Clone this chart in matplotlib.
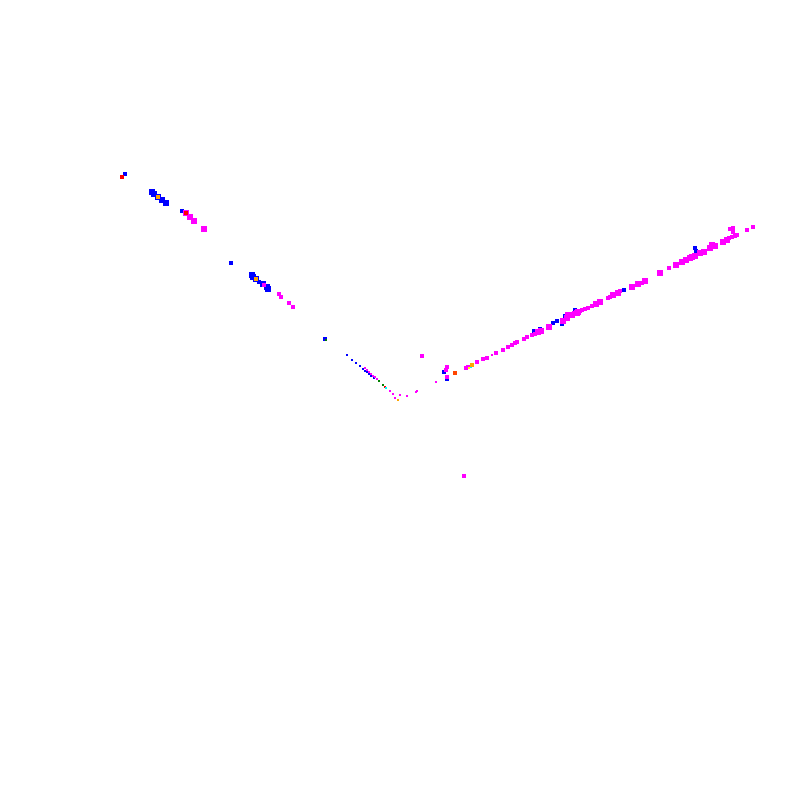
import matplotlib.pyplot as plt

# positions (pixel-like units, y grows downward)
blue_x = [125, 152, 154, 158, 162, 166, 182, 231, 252, 253, 256, 259, 263, 267, 268,
          325, 347, 352, 356, 360, 363, 365, 367, 369, 371, 374,
          444, 447, 534, 540, 553, 557, 562, 565, 575, 562, 575, 624, 695, 696]
blue_y = [174, 192, 194, 197, 200, 203, 211, 263, 275, 277, 279, 282, 284, 287, 289,
          339, 355, 360, 363, 366, 369, 371, 372, 374, 376, 378,
          372, 379, 331, 329, 323, 321, 324, 316, 310, 323, 310, 290, 248, 251]
blue_s = [8, 18, 18, 16, 18, 16, 10, 8, 14, 14, 14, 12, 14, 14, 14,
          6, 3, 3, 2, 2, 2, 2, 2, 2, 2, 2,
          5, 5, 7, 7, 8, 7, 7, 8, 6, 6, 6, 7, 12, 10]

magenta_x = [158, 186, 190, 194, 204, 264, 279, 281, 289, 293,
             365, 367, 369, 371, 373, 375, 377, 379, 390, 393, 395, 400, 407, 416, 417,
             422, 436, 446, 447, 447, 466, 468, 477, 483, 487, 492, 496, 503, 508, 512,
             515, 517, 524, 527, 532, 535, 538, 541, 549, 563, 567, 570, 577,
             568, 572, 578, 582, 588, 592, 596, 600, 608, 613, 618, 632, 638, 645,
             660, 669, 676, 682, 690, 695, 700, 710, 715, 723, 727, 732, 733, 730,
             733, 737, 747, 753, 464,
             566, 580, 610, 642, 686, 692, 704, 712, 729, 735, 600, 620, 585, 574]
magenta_y = [197, 213, 217, 221, 229, 285, 294, 297, 303, 307,
             368, 370, 372, 374, 376, 377, 379, 381, 391, 394, 398, 395, 396, 392, 391,
             356, 382, 370, 367, 377, 368, 367, 362, 359, 358, 355, 353, 350, 347, 345,
             343, 342, 339, 337, 335, 334, 332, 331, 327, 321, 318, 315, 313,
             315, 315, 312, 310, 308, 306, 304, 302, 298, 295, 293, 287, 284, 281,
             273, 268, 265, 262, 258, 256, 253, 248, 246, 242, 240, 237, 232, 229,
             228, 235, 230, 227, 476,
             317, 311, 297, 283, 260, 257, 252, 245, 238, 236, 303, 291, 309, 313]
magenta_s = [11, 14, 16, 16, 14, 11, 11, 11, 11, 8,
             2, 2, 2, 2, 2, 2, 2, 2, 2, 2, 2, 2, 2, 2, 2,
             5, 2, 11, 11, 8, 8, 8, 6, 6, 6, 3, 8, 8, 11, 8,
             11, 11, 8, 8, 11, 11, 14, 14, 14, 14, 14, 14, 14,
             14, 14, 14, 11, 11, 11, 14, 14, 11, 14, 14, 14, 14, 16,
             14, 11, 14, 16, 16, 16, 18, 16, 14, 16, 16, 11, 8, 8,
             8, 11, 8, 8, 5,
             12, 12, 12, 12, 14, 14, 16, 14, 12, 10, 10, 10, 12, 12]

other_x = [122, 158, 186, 256, 326, 379, 383, 385, 386, 398, 455, 471, 472, 469]
other_y = [177, 197, 213, 279, 340, 381, 385, 387, 388, 400, 373, 367, 365, 368]
other_c = ['red', 'orange', 'red', 'orange', 'green', 'green', 'green', 'red', 'cyan',
           'orange', 'orangered', 'cyan', 'orange', 'yellow']
other_s = [7, 5, 8, 5, 2, 2, 2, 2, 2, 2, 7, 4, 5, 4]

fig = plt.figure(figsize=(8, 8), dpi=100)
ax = fig.add_axes([0, 0, 1, 1])
ax.scatter(blue_x, blue_y, s=blue_s, c='blue', marker='s', linewidths=0)
ax.scatter(magenta_x, magenta_y, s=magenta_s, c='magenta', marker='s', linewidths=0)
ax.scatter(other_x, other_y, s=other_s, c=other_c, marker='s', linewidths=0)
ax.set_xlim(0, 800)
ax.set_ylim(800, 0)
ax.axis('off')
fig.savefig('out.png', dpi=100)
